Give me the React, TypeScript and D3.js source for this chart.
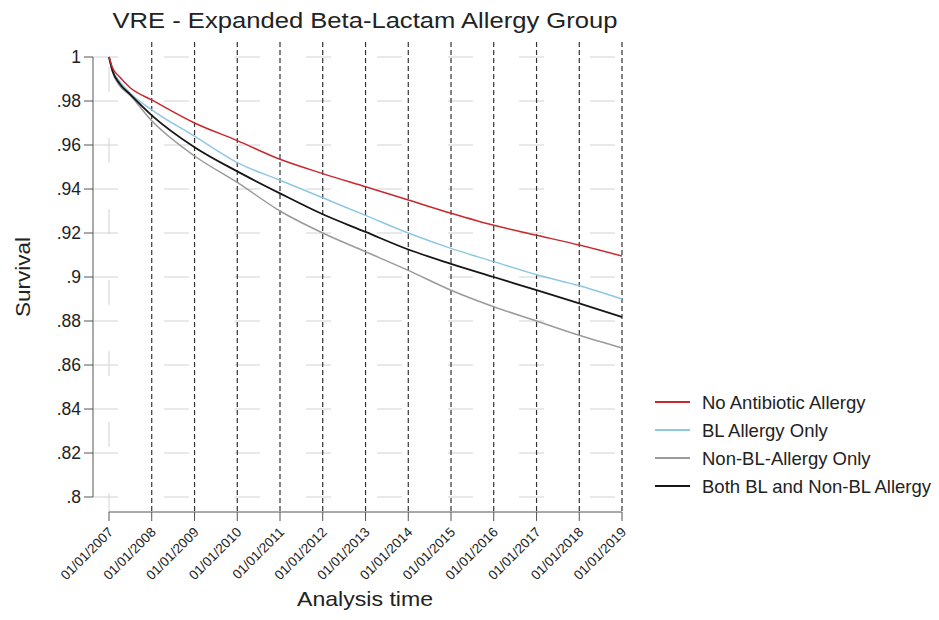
import React from "react";
import * as d3 from "d3";

const tickLabels = [
  "01/01/2007", "01/01/2008", "01/01/2009", "01/01/2010", "01/01/2011",
  "01/01/2012", "01/01/2013", "01/01/2014", "01/01/2015", "01/01/2016",
  "01/01/2017", "01/01/2018", "01/01/2019",
];
const yTicks = [1, 0.98, 0.96, 0.94, 0.92, 0.9, 0.88, 0.86, 0.84, 0.82, 0.8];
const yTickLabels = ["1", ".98", ".96", ".94", ".92", ".9", ".88", ".86", ".84", ".82", ".8"];

const timePoints = [
  "2007-01-01", "2007-02-01", "2007-04-01", "2007-07-01", "2008-01-01",
  "2009-01-01", "2010-01-01", "2011-01-01", "2012-01-01", "2013-01-01",
  "2014-01-01", "2015-01-01", "2016-01-01", "2017-01-01", "2018-01-01", "2019-01-01",
];
const noAllergy = [1, 0.995, 0.991, 0.986, 0.9805, 0.970, 0.962, 0.9535, 0.947, 0.941, 0.935, 0.929, 0.9235, 0.919, 0.9145, 0.9095];
const blAllergy = [1, 0.994, 0.989, 0.9835, 0.976, 0.964, 0.952, 0.944, 0.936, 0.928, 0.920, 0.913, 0.907, 0.901, 0.896, 0.890];
const nonBlAllergy = [1, 0.993, 0.987, 0.9825, 0.971, 0.955, 0.943, 0.930, 0.920, 0.9115, 0.903, 0.894, 0.8865, 0.880, 0.8735, 0.8677];
const bothAllergy = [1, 0.9935, 0.988, 0.983, 0.9735, 0.959, 0.948, 0.938, 0.9285, 0.9205, 0.9125, 0.906, 0.900, 0.894, 0.888, 0.8818];

const seriesNames = ["No Antibiotic Allergy", "BL Allergy Only", "Non-BL-Allergy Only", "Both BL and Non-BL Allergy"];
const seriesColors = ["#c8282e", "#8ec7e3", "#9a9a9a", "#161616"];

const FONT = "'Liberation Sans', Arial, Helvetica, sans-serif";

export default function App() {
  const parse = d3.timeParse("%Y-%m-%d");
  const parseTick = d3.timeParse("%m/%d/%Y");
  const dates = timePoints.map((s) => parse(s) as Date);
  const tickDates = tickLabels.map((s) => parseTick(s) as Date);

  const x = d3.scaleTime().domain([tickDates[0], tickDates[tickDates.length - 1]]).range([109, 622]);
  const y = d3.scaleLinear().domain([0.8, 1]).range([497, 57]);

  const seriesValues = [noAllergy, blAllergy, nonBlAllergy, bothAllergy];
  const line = d3
    .line<[Date, number]>()
    .x((d) => x(d[0]))
    .y((d) => y(d[1]))
    .curve(d3.curveMonotoneX);

  const drawOrder = [2, 1, 3, 0];
  const axisY = 512;
  const yAxisX = 93;
  const plotRight = 622;

  return (
    <svg width={939} height={620} style={{ position: "absolute", left: 0, top: 0, background: "#fff" }} fontFamily={FONT}>
      <rect x={0} y={0} width={939} height={620} fill="#fff" />
      {/* title */}
      <text x={365} y={28} textAnchor="middle" fontSize={22} fill="#222" textLength={505} lengthAdjust="spacingAndGlyphs">
        VRE - Expanded Beta-Lactam Allergy Group
      </text>

      {/* horizontal grid */}
      {yTicks.map((t, i) => (
        <line key={"hg" + i} x1={yAxisX} x2={plotRight} y1={y(t)} y2={y(t)} stroke="#d2d2d2" strokeWidth={1} strokeDasharray="25,46" />
      ))}
      {/* vertical grid at first tick */}
      <line x1={x(tickDates[0])} x2={x(tickDates[0])} y1={y(1)} y2={axisY} stroke="#d2d2d2" strokeWidth={1} strokeDasharray="25,46" strokeDashoffset={-10} />

      {/* dashed year lines */}
      {tickDates.slice(1).map((d, i) => (
        <line key={"vl" + i} x1={x(d)} x2={x(d)} y1={42} y2={axisY} stroke="#333" strokeWidth={1.2} strokeDasharray="5,3" />
      ))}

      {/* curves */}
      {drawOrder.map((si) => (
        <path
          key={"s" + si}
          d={line(dates.map((d, j) => [d, seriesValues[si][j]] as [Date, number])) || ""}
          fill="none"
          stroke={seriesColors[si]}
          strokeWidth={si === 3 ? 1.8 : 1.5}
        />
      ))}

      {/* y axis */}
      <line x1={yAxisX} x2={yAxisX} y1={y(1)} y2={y(0.8)} stroke="#555" strokeWidth={1} />
      {yTicks.map((t, i) => (
        <g key={"yt" + i}>
          <line x1={yAxisX - 9} x2={yAxisX} y1={y(t)} y2={y(t)} stroke="#555" strokeWidth={1} />
          <text x={81} y={y(t) + 6} textAnchor="end" fontSize={17.5} fill="#222">
            {yTickLabels[i]}
          </text>
        </g>
      ))}
      <text transform={`translate(30,277) rotate(-90)`} textAnchor="middle" fontSize={21} fill="#222" textLength={80} lengthAdjust="spacingAndGlyphs">
        Survival
      </text>

      {/* x axis */}
      <line x1={x(tickDates[0])} x2={plotRight} y1={axisY} y2={axisY} stroke="#555" strokeWidth={1} />
      {tickDates.map((d, i) => (
        <g key={"xt" + i}>
          <line x1={x(d)} x2={x(d)} y1={axisY} y2={axisY + 9} stroke="#555" strokeWidth={1} />
          <text
            transform={`translate(${x(d) + 5},${axisY + 21}) rotate(-45)`}
            textAnchor="end"
            fontSize={13.5}
            fill="#222"
          >
            {tickLabels[i]}
          </text>
        </g>
      ))}
      <text x={365} y={606} textAnchor="middle" fontSize={21} fill="#222" textLength={136} lengthAdjust="spacingAndGlyphs">
        Analysis time
      </text>

      {/* legend */}
      {seriesNames.map((n, i) => (
        <g key={"lg" + i}>
          <line x1={655} x2={690} y1={402 + i * 28} y2={402 + i * 28} stroke={seriesColors[i]} strokeWidth={1.8} />
          <text x={702} y={402 + i * 28 + 7} fontSize={18.5} fill="#222">
            {n}
          </text>
        </g>
      ))}
    </svg>
  );
}
